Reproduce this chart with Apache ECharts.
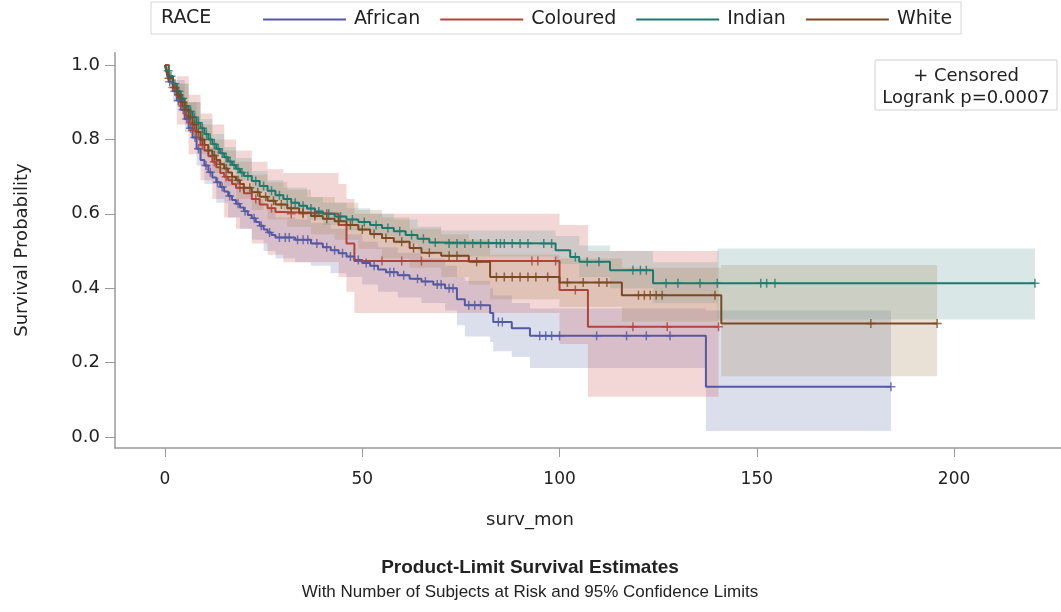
<!DOCTYPE html>
<html>
<head>
<meta charset="utf-8">
<script src="https://cdn.jsdelivr.net/npm/echarts@6/dist/echarts.min.js"></script>
<style>
  html, body { margin: 0; padding: 0; background: #fff; }
  #chart { width: 1061px; height: 612px; }
</style>
</head>
<body>
<div id="chart"></div>
<script>
// groups
const groups = ['African', 'Coloured', 'Indian', 'White'];
const lineColors = ['#5459a3', '#b0443a', '#1b7a6c', '#7a4a22'];
const bandColors = ['rgba(111,126,179,0.25)', 'rgba(208,91,91,0.25)', 'rgba(102,165,160,0.25)', 'rgba(169,134,91,0.25)'];

// Kaplan-Meier steps [month, survival]
const africanKM = [[0,1],[0.5,0.975],[1,0.955],[2,0.93],[3,0.905],[4,0.88],[5,0.855],[6,0.83],[7,0.805],[8,0.775],[9,0.745],
  [10,0.73],[11,0.712],[12,0.698],[13,0.685],[14,0.672],[15,0.66],[16,0.648],[17,0.637],[18,0.627],[19,0.617],[20,0.607],
  [21,0.597],[22,0.588],[23,0.578],[24,0.568],[25,0.558],[26,0.55],[27,0.543],[28,0.536],[33,0.53],[37,0.52],[40,0.51],
  [42,0.502],[44,0.494],[46,0.485],[48,0.476],[50,0.468],[52,0.46],[54,0.45],[56,0.443],[59,0.435],[62,0.425],[65,0.418],
  [68,0.41],[71,0.4],[74,0.37],[76,0.354],[82.4,0.333],[83.2,0.309],[87.9,0.292],[92.5,0.272],[137.1,0.135],[184,0.135]];
const colouredKM = [[0,1],[1,0.97],[2,0.94],[3,0.915],[4,0.89],[5,0.865],[6,0.845],[7,0.825],[8,0.805],[9,0.785],[10,0.77],
  [11,0.755],[12,0.74],[13,0.725],[14,0.71],[15,0.7],[16,0.69],[17,0.68],[18,0.67],[20,0.655],[22,0.64],[24,0.625],[26,0.615],
  [28,0.605],[30,0.6],[44,0.57],[46,0.52],[48,0.473],[100,0.395],[107.2,0.296],[140.3,0.296]];
const indianKM = [[0,1],[0.5,0.985],[1,0.97],[2,0.95],[3,0.93],[4,0.91],[5,0.89],[6,0.875],[7,0.86],[8,0.845],[9,0.83],
  [10,0.815],[11,0.8],[12,0.787],[13,0.775],[14,0.763],[15,0.752],[16,0.741],[17,0.731],[18,0.721],[19,0.711],[20,0.702],
  [22,0.688],[24,0.675],[26,0.662],[28,0.65],[30,0.64],[32,0.63],[34,0.622],[36,0.614],[38,0.606],[40,0.6],[43,0.593],
  [46,0.585],[49,0.578],[52,0.57],[55,0.562],[58,0.553],[61,0.543],[64,0.533],[67,0.523],[70,0.52],[99,0.502],[102.7,0.484],
  [105,0.471],[112.8,0.448],[123.7,0.413],[220.5,0.413]];
const whiteKM = [[0,1],[0.5,0.98],[1,0.965],[2,0.94],[3,0.92],[4,0.9],[5,0.88],[6,0.86],[7,0.84],[8,0.82],[9,0.8],[10,0.785],
  [11,0.77],[12,0.757],[13,0.745],[14,0.733],[15,0.722],[16,0.711],[17,0.7],[18,0.69],[19,0.68],[20,0.67],[22,0.658],[24,0.646],
  [26,0.635],[28,0.625],[31,0.615],[34,0.603],[37,0.594],[40,0.587],[43,0.58],[46,0.57],[49,0.558],[52,0.546],[55,0.535],
  [58,0.525],[62,0.508],[65,0.495],[70,0.487],[77,0.471],[82.4,0.43],[100,0.415],[115.8,0.381],[141,0.305],[195.7,0.305]];

// 95% confidence limits [month, lower, upper]
const africanCI = [[0,1,1],[2,0.9,0.96],[5,0.82,0.9],[8,0.73,0.83],[10,0.68,0.78],[13,0.63,0.74],[16,0.59,0.7],[19,0.56,0.67],
  [22,0.53,0.64],[25,0.5,0.61],[28,0.48,0.59],[33,0.47,0.585],[37,0.46,0.575],[42,0.44,0.56],[46,0.43,0.545],[50,0.41,0.525],
  [54,0.39,0.51],[59,0.375,0.495],[65,0.36,0.48],[71,0.34,0.46],[74,0.3,0.43],[76,0.27,0.42],[82.4,0.255,0.4],[83.2,0.23,0.38],
  [87.9,0.215,0.36],[92.5,0.185,0.345],[137.1,0.016,0.34],[184,0.016,0.34]];
const colouredCI = [[0,1,1],[3,0.84,0.97],[6,0.76,0.92],[9,0.69,0.87],[12,0.64,0.84],[15,0.59,0.8],[18,0.56,0.77],[22,0.52,0.74],
  [26,0.49,0.72],[30,0.47,0.71],[44,0.43,0.68],[46,0.39,0.64],[48,0.333,0.6],[100,0.25,0.57],[107.2,0.108,0.5],[140.3,0.108,0.5]];
const indianCI = [[0,1,1],[3,0.91,0.95],[6,0.85,0.9],[9,0.8,0.855],[12,0.76,0.815],[15,0.725,0.78],[18,0.69,0.75],[22,0.66,0.715],
  [26,0.635,0.69],[30,0.61,0.67],[36,0.585,0.645],[40,0.57,0.63],[46,0.555,0.615],[52,0.54,0.6],[58,0.52,0.585],[64,0.5,0.565],
  [70,0.485,0.555],[99,0.465,0.54],[105,0.43,0.515],[112.8,0.4,0.5],[123.7,0.36,0.47],[140,0.316,0.507],[220.5,0.316,0.507]];
const whiteCI = [[0,1,1],[3,0.89,0.95],[6,0.82,0.9],[9,0.76,0.84],[12,0.71,0.8],[15,0.675,0.77],[18,0.64,0.74],[22,0.61,0.705],
  [26,0.585,0.685],[31,0.565,0.665],[37,0.545,0.645],[43,0.53,0.63],[49,0.505,0.61],[55,0.48,0.59],[62,0.455,0.56],[70,0.43,0.545],
  [77,0.41,0.53],[82.4,0.37,0.49],[100,0.35,0.48],[115.8,0.31,0.455],[141,0.163,0.462],[195.7,0.163,0.462]];

// censored times (months)
const africanCens = [1.2,2.5,3.4,4.6,5.5,6.5,7.6,8.5,10.4,11.5,13.3,14.5,16.4,18.5,20.3,22.6,24.4,26.5,29,30.5,31.5,33.6,35,36.2,
  38.5,41,43,45,47,49,51,53,57,58,60.5,64,66,69,70,72,73,77,78.5,80,84.5,85.5,95,96.5,98,100,109.4,117,122,128,184];
const colouredCens = [2,4.5,7,9.5,12.5,15.5,19,23,27,32,35,38,41,55,60,65,93,94.5,99,104,118.6,127.3,140.3];
const indianCens = [0.8,1.5,2.5,3.5,4.5,5.5,6.5,7.5,8.5,9.5,10.5,11.5,12.5,13.5,14.5,15.5,16.5,17.5,18.5,19.5,21,23,25,27,29,31,
  33,35,37,39,41.5,44.5,47.5,50.5,53.5,56.5,59.5,62.5,65.5,68.5,72,74,76,78,80,82,84,85,86,88,90,92,96,98,104,107,110,118.6,
  120.5,122,127,130,135.6,140,151,152.5,154.6,220.5];
const whiteCens = [1,2.5,3.5,4.5,5.5,6.5,7.5,8.5,9.5,11,12.5,14,15.5,17,18.5,20,21.5,23.5,25.5,27.5,29.5,32,35,38,41,44,47,50,53,
  56,60,63,67,72,74,79,84,86,88,90,92,94,97,102,106,110,112,120,121.5,123,124.5,126,139.4,178.9,195.7];

const xTicks = [0, 50, 100, 150, 200];
const yTicks = [0, 0.2, 0.4, 0.6, 0.8, 1.0];

const kmList = [africanKM, colouredKM, indianKM, whiteKM];
const ciList = [africanCI, colouredCI, indianCI, whiteCI];
const censList = [africanCens, colouredCens, indianCens, whiteCens];

const FONT = 'DejaVu Sans';
const plusPath = 'path://M-1,-6H1V-1H6V1H1V6H-1V1H-6V-1H-1Z';

function stepAt(km, t) {
  let v = km[0][1];
  for (const p of km) { if (p[0] <= t) v = p[1]; else break; }
  return v;
}

// step-shaped band polygon drawn through the axes
function bandRenderer(ci, color) {
  return function (params, api) {
    const pts = [];
    for (let i = 0; i < ci.length - 1; i++) {
      pts.push(api.coord([ci[i][0], ci[i][2]]));
      pts.push(api.coord([ci[i + 1][0], ci[i][2]]));
    }
    for (let i = ci.length - 2; i >= 0; i--) {
      pts.push(api.coord([ci[i + 1][0], ci[i][1]]));
      pts.push(api.coord([ci[i][0], ci[i][1]]));
    }
    return { type: 'polygon', shape: { points: pts }, style: { fill: color } };
  };
}

const series = [];
groups.forEach(function (g, k) {
  series.push({
    name: g + ' CL', type: 'custom', silent: true, z: 1,
    renderItem: bandRenderer(ciList[k], bandColors[k]),
    data: [[0, 0]]
  });
});
groups.forEach(function (g, k) {
  series.push({
    name: g, type: 'line', step: 'end', symbol: 'none', z: 3,
    color: lineColors[k],
    lineStyle: { width: 2, color: lineColors[k] },
    data: kmList[k]
  });
  series.push({
    name: g + ' censored', type: 'scatter', z: 4,
    symbol: plusPath, symbolSize: 9,
    itemStyle: { color: lineColors[k] },
    data: censList[k].map(function (t) { return [t, stepAt(kmList[k], t)]; })
  });
});

const chart = echarts.init(document.getElementById('chart'), null, { renderer: 'canvas' });
chart.setOption({
  animation: false,
  backgroundColor: '#fff',
  textStyle: { fontFamily: FONT },
  grid: { left: 115, right: 0, top: 52.7, bottom: 164 },
  legend: {
    data: groups,
    left: 263, top: 10, padding: 0,
    icon: 'rect',
    itemWidth: 83, itemHeight: 2, itemGap: 20,
    textStyle: { fontFamily: FONT, fontSize: 19, color: '#222', padding: [0, 0, 0, 3] },
    selectedMode: false
  },
  xAxis: {
    type: 'value', min: -12.67, max: 227.1,
    axisLine: { onZero: false, lineStyle: { color: '#9a9a9a', width: 1.5 } },
    axisTick: { show: true, length: 9, customValues: xTicks, lineStyle: { color: '#9a9a9a' } },
    axisLabel: { customValues: xTicks, margin: 23, fontSize: 17, color: '#222', fontFamily: FONT },
    splitLine: { show: false }
  },
  yAxis: {
    type: 'value', min: -0.030, max: 1.0334,
    axisLine: { show: true, onZero: false, lineStyle: { color: '#9a9a9a', width: 1.5 } },
    axisTick: { show: true, length: 10, customValues: yTicks, lineStyle: { color: '#9a9a9a' } },
    axisLabel: { customValues: yTicks, margin: 15, fontSize: 18, color: '#222', fontFamily: FONT,
      formatter: function (v) { return v.toFixed(1); } },
    splitLine: { show: false }
  },
  graphic: [
    { type: 'rect', shape: { x: 151, y: 2, width: 810, height: 32 }, style: { fill: 'none', stroke: '#d4d4d4', lineWidth: 1 } },
    { type: 'text', x: 161, y: 18, style: { text: 'RACE', font: '19px "DejaVu Sans"', fill: '#222', textVerticalAlign: 'middle' } },
    { type: 'rect', z: 10, shape: { x: 875, y: 60, width: 182, height: 50 }, style: { fill: '#fff', stroke: '#cfcfcf', lineWidth: 1 } },
    { type: 'text', z: 11, x: 966, y: 76, style: { text: '+ Censored', font: '18px "DejaVu Sans"', fill: '#222', textAlign: 'center', textVerticalAlign: 'middle' } },
    { type: 'text', z: 11, x: 966, y: 98, style: { text: 'Logrank p=0.0007', font: '18px "DejaVu Sans"', fill: '#222', textAlign: 'center', textVerticalAlign: 'middle' } },
    { type: 'text', x: 22, y: 250, rotation: Math.PI / 2, style: { text: 'Survival Probability', font: '18px "DejaVu Sans"', fill: '#222', textAlign: 'center', textVerticalAlign: 'middle' } },
    { type: 'text', x: 530, y: 520, style: { text: 'surv_mon', font: '18px "DejaVu Sans"', fill: '#222', textAlign: 'center', textVerticalAlign: 'middle' } },
    { type: 'text', x: 530, y: 568, style: { text: 'Product-Limit Survival Estimates', font: 'bold 19px "Liberation Sans"', fill: '#222', textAlign: 'center', textVerticalAlign: 'middle' } },
    { type: 'text', x: 530, y: 592, style: { text: 'With Number of Subjects at Risk and 95% Confidence Limits', font: '17px "Liberation Sans"', fill: '#222', textAlign: 'center', textVerticalAlign: 'middle' } }
  ],
  series: series
});
</script>
</body>
</html>
